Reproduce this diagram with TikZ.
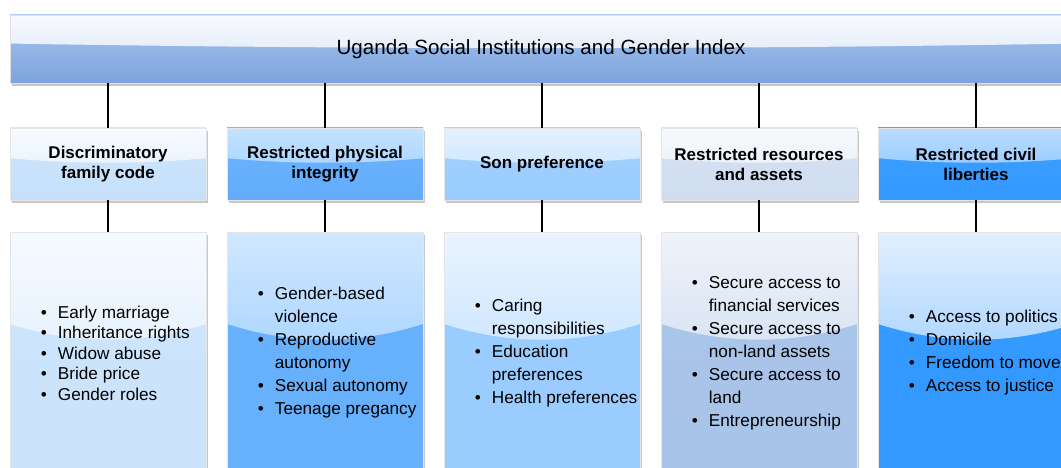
\documentclass[tikz,border=0pt]{standalone}
\usepackage{fontspec}
\setmainfont{Liberation Sans}
\usetikzlibrary{calc,backgrounds}
\newcommand{\bitem}{\makebox[17pt][l]{\textbullet}}
\newcommand{\bcont}{\hspace*{17pt}}
\definecolor{bnA}{RGB}{247,249,254}
\definecolor{bnB}{RGB}{215,228,246}\definecolor{bnC}{RGB}{168,198,237}\definecolor{bnD}{RGB}{124,164,222}
\definecolor{haA}{RGB}{248,251,255}\definecolor{haB}{RGB}{220,236,253}\definecolor{haC}{RGB}{206,230,252}\definecolor{haD}{RGB}{198,224,251}
\definecolor{hbA}{RGB}{196,227,255}\definecolor{hbB}{RGB}{150,202,254}\definecolor{hbC}{RGB}{110,180,253}\definecolor{hbD}{RGB}{98,172,252}
\definecolor{hcA}{RGB}{228,241,255}\definecolor{hcB}{RGB}{190,224,255}\definecolor{hcC}{RGB}{164,209,255}\definecolor{hcD}{RGB}{153,204,255}
\definecolor{hdA}{RGB}{247,249,252}\definecolor{hdB}{RGB}{229,236,246}\definecolor{hdC}{RGB}{214,226,242}\definecolor{hdD}{RGB}{208,221,239}
\definecolor{heA}{RGB}{186,221,255}\definecolor{heB}{RGB}{125,188,255}\definecolor{heC}{RGB}{62,158,255}\definecolor{heD}{RGB}{51,153,255}
\definecolor{laA}{RGB}{246,250,255}\definecolor{laB}{RGB}{214,233,253}\definecolor{laC}{RGB}{205,229,252}\definecolor{laD}{RGB}{203,228,251}
\definecolor{lbA}{RGB}{208,232,255}\definecolor{lbB}{RGB}{135,194,254}\definecolor{lbC}{RGB}{104,177,252}\definecolor{lbD}{RGB}{102,176,252}
\definecolor{lcA}{RGB}{234,244,255}\definecolor{lcB}{RGB}{176,216,255}\definecolor{lcC}{RGB}{155,205,255}\definecolor{lcD}{RGB}{153,204,255}
\definecolor{ldA}{RGB}{239,243,250}\definecolor{ldB}{RGB}{192,210,237}\definecolor{ldC}{RGB}{171,197,234}\definecolor{ldD}{RGB}{169,196,233}
\definecolor{leA}{RGB}{226,240,255}\definecolor{leB}{RGB}{118,186,255}\definecolor{leC}{RGB}{53,154,255}\definecolor{leD}{RGB}{51,153,255}
\tikzset{
  box/.style={minimum width=196pt, inner sep=0pt, draw=black!10, line width=0.6pt},
  gloss/.style n args={7}{top color=#3, bottom color=#4,
    path picture={\shade[top color=#1, bottom color=#2]
      (path picture bounding box.north west) -- (path picture bounding box.north east)
      -- ($(path picture bounding box.north east)!#5!(path picture bounding box.south east)$)
      .. controls +(-#7,#6) and +(#7,#6) ..
      ($(path picture bounding box.north west)!#5!(path picture bounding box.south west)$) -- cycle;}},
  head/.style={box, minimum height=72pt, font=\fontsize{17}{20}\selectfont\bfseries, align=center},
  hgloss/.style={gloss={#1A}{#1B}{#1C}{#1D}{0.42}{6}{65}},
  list/.style={box, minimum height=242pt},
  lgloss/.style={gloss={#1A}{#1B}{#1C}{#1D}{0.38}{21}{65}},
  items/.style={anchor=west, inner sep=0pt, align=left, font=\fontsize{17.2}{23}\selectfont},
  link/.style={line width=2.6pt, black},
  shadowc/.style={fill=black!22}
}
\begin{document}
\begin{tikzpicture}[x=1pt, y=-1pt]
\useasboundingbox (0,0) rectangle (1061,468);
% banner
\node[minimum width=1062pt, minimum height=68pt, inner sep=0pt, draw=black!12, line width=0.6pt,
  gloss={bnA}{bnB}{bnC}{bnD}{0.42}{6}{350},
  font=\fontsize{20.6}{23}\selectfont] (top) at (541,49) {Uganda Social Institutions and Gender Index};
% headers
\node[head, hgloss=ha] (h1) at (108,164) {Discriminatory\\family code};
\node[head, hgloss=hb] (h2) at (325,164) {Restricted physical\\integrity};
\node[head, hgloss=hc] (h3) at (542,164) {Son preference};
\node[head, hgloss=hd] (h4) at (759,164) {Restricted resources\\and assets};
\node[head, hgloss=he] (h5) at (976,164) {Restricted civil\\liberties};
% lists
\node[list, lgloss=la] (l1) at (108,353) {};
\node[list, lgloss=lb] (l2) at (325,353) {};
\node[list, lgloss=lc] (l3) at (542,353) {};
\node[list, lgloss=ld] (l4) at (759,353) {};
\node[list, lgloss=le] (l5) at (976,353) {};
% list texts
\node[items, font=\fontsize{17.2}{20.5}\selectfont] (t1) at ($(l1.west)+(31,0)$) {\bitem Early marriage\\\bitem Inheritance rights\\\bitem Widow abuse\\\bitem Bride price\\\bitem Gender roles};
\node[items] (t2) at ($(l2.west)+(31,0)$) {\bitem Gender-based\\\bcont violence\\\bitem Reproductive\\\bcont autonomy\\\bitem Sexual autonomy\\\bitem Teenage pregancy};
\node[items] (t3) at ($(l3.west)+(31,0)$) {\bitem Caring\\\bcont responsibilities\\\bitem Education\\\bcont preferences\\\bitem Health preferences};
\node[items] (t4) at ($(l4.west)+(31,0)$) {\bitem Secure access to\\\bcont financial services\\\bitem Secure access to\\\bcont non-land assets\\\bitem Secure access to\\\bcont land\\\bitem Entrepreneurship};
\node[items] (t5) at ($(l5.west)+(31,0)$) {\bitem Access to politics\\\bitem Domicile\\\bitem Freedom to move\\\bitem Access to justice};
% connectors
\foreach \i in {1,...,5} {
  \draw[link] (h\i.north |- top.south) -- (h\i.north);
  \draw[link] (h\i.south) -- (l\i.north);
}
% shadows
\begin{scope}[on background layer]
  \foreach \n in {top,h1,h2,h3,h4,h5,l1,l2,l3,l4,l5}
    \fill[shadowc] ($(\n.south west)+(2,3)$) rectangle ($(\n.north east)+(2,3)$);
\end{scope}
\end{tikzpicture}
\end{document}
